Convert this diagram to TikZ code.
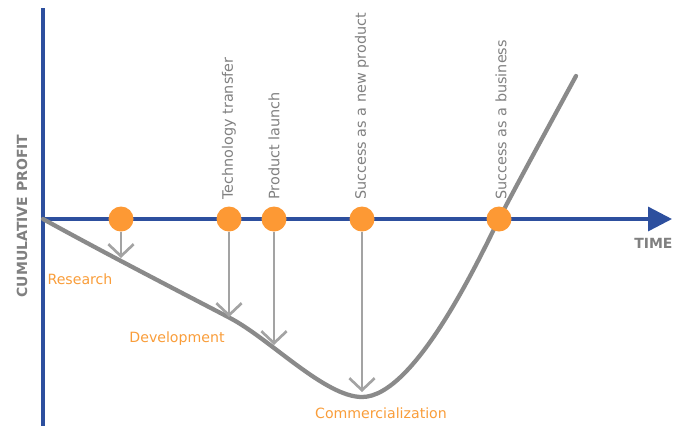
\documentclass[tikz,border=0pt]{standalone}
\usepackage{fontspec}
\setmainfont{DejaVu Sans}
\usetikzlibrary{arrows.meta}
\definecolor{axisblue}{HTML}{2D4F9E}
\definecolor{dotorange}{HTML}{FD9934}
\definecolor{txtorange}{HTML}{F99D3A}
\definecolor{curvegray}{HTML}{8A8A8A}
\definecolor{arrowgray}{HTML}{A3A3A3}
\definecolor{txtgray}{HTML}{808080}
\tikzset{
  axisline/.style={draw=axisblue, line width=2.5pt},
  dot/.style={circle, fill=dotorange, minimum size=18.75pt, inner sep=0pt},
  droparrow/.style={draw=arrowgray, line width=2.2pt, -{Straight Barb[length=9pt,width=19pt,line width=2pt]}},
  milestone/.style={rotate=90, anchor=west, inner sep=0pt, text=txtgray, font=\fontsize{10.8pt}{12pt}\selectfont},
  phase/.style={text=txtorange, inner sep=0pt, font=\fontsize{10.6pt}{12pt}\selectfont},
  axislabel/.style={text=txtgray, inner sep=0pt, font=\bfseries\fontsize{10.5pt}{12pt}\selectfont},
  profit/.style={draw=curvegray, line width=3.2pt, line cap=round}
}
\begin{document}
\begin{tikzpicture}[x=0.75pt, y=-0.75pt]
\useasboundingbox (0,0) rectangle (674,426);
% axes
\coordinate (o) at (43,219);
\coordinate (ytop) at (43,8);
\coordinate (ybot) at (43,426);
\coordinate (xend) at (672,219);
\draw[axisline] (ytop) -- (ybot);
\draw[axisline, -{Triangle[length=18pt,width=18pt]}] (o) -- (xend);
% curve
\coordinate (k1) at (230,318);
\coordinate (k2) at (362,397);
\coordinate (k3) at (499,219);
\coordinate (k4) at (576,76);
\draw[profit] (o) .. controls (110,256) and (190,297) .. (k1)
  .. controls (270,339) and (325,397) .. (k2)
  .. controls (415,397) and (480,257) .. (k3)
  .. controls (515,188) and (545,133) .. (k4);
% dots
\node[dot] (c1) at (121,219) {};
\node[dot] (c2) at (229,219) {};
\node[dot] (c3) at (274,219) {};
\node[dot] (c4) at (362,219) {};
\node[dot] (c5) at (499,219) {};
% arrows
\coordinate (e1) at (121,258);
\coordinate (e2) at (229,317);
\coordinate (e3) at (274,345);
\coordinate (e4) at (362,392);
\draw[droparrow] (c1.south) -- (e1);
\draw[droparrow] (c2.south) -- (e2);
\draw[droparrow] (c3.south) -- (e3);
\draw[droparrow] (c4.south) -- (e4);
% milestone labels
\node[milestone] (t2) at (229,200) {Technology transfer};
\node[milestone] (t3) at (274,200) {Product launch};
\node[milestone] (t4) at (362,200) {Success as a new product};
\node[milestone] (t5) at (501,200) {Success as a business};
% phase labels
\node[phase] (p1) at (80,279) {Research};
\node[phase] (p2) at (177,339) {Development};
\node[phase] (p3) at (381,413) {Commercialization};
% axis labels
\node[axislabel, rotate=90] (ylab) at (22,216) {CUMULATIVE PROFIT};
\node[axislabel, anchor=west] (xlab) at (634,243) {TIME};
\end{tikzpicture}
\end{document}
